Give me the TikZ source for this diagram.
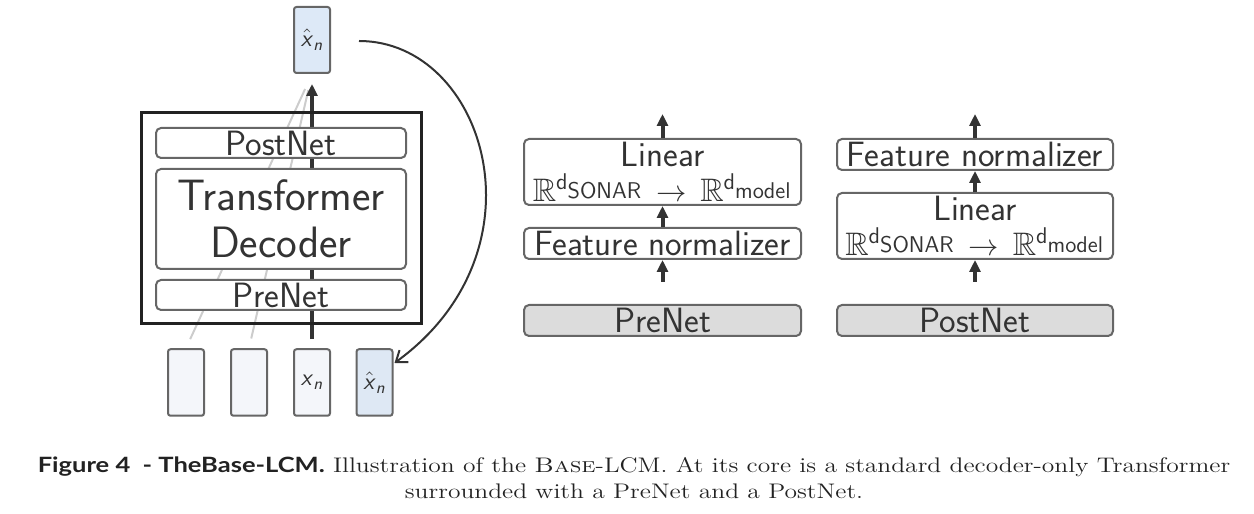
\documentclass[tikz,border=0pt]{standalone}
\usepackage{amsfonts}
\usepackage{amssymb}
\usepackage{amsmath}
\usepackage{fontspec}
\usepackage{tikz}
\usetikzlibrary{calc}
\usetikzlibrary{arrows.meta}
\newfontfamily\capfont{Lato}

\definecolor{r102g102b102}{rgb}{0.400000,0.400000,0.400000}
\definecolor{r51g51b51}{rgb}{0.200000,0.200000,0.200000}
\definecolor{r34g34b34}{rgb}{0.133333,0.133333,0.133333}
\definecolor{r221g233b247}{rgb}{0.866667,0.913725,0.968627}
\definecolor{r222g232b244}{rgb}{0.870588,0.909804,0.956863}
\definecolor{r244g246b250}{rgb}{0.956863,0.964706,0.980392}
\definecolor{r220g220b220}{rgb}{0.862745,0.862745,0.862745}
\definecolor{r204g204b204}{rgb}{0.800000,0.800000,0.800000}

\newcommand{\xtok}{$\textsf{\textit{x}}_{\textsf{\textit{n}}}$}
\newcommand{\xhattok}{$\hat{\textsf{\textit{x}}}_{\textsf{\textit{n}}}$}
\newcommand{\linmap}{$\mathbb{R}^{\mathsf{d}_{\scriptstyle\mathsf{SONAR}}}\,\rightarrow\,\mathbb{R}^{\mathsf{d}_{\scriptstyle\mathsf{model}}}$}

\tikzset{
  blockbox/.style={draw=r102g102b102, line width=0.04cm, rounded corners=0.1cm, fill=white, inner sep=0pt, text=r51g51b51, align=center, font=\sffamily\fontsize{20}{20}\selectfont},
  tokenbox/.style={draw=r102g102b102, line width=0.04cm, rounded corners=0.05cm, minimum width=0.72cm, minimum height=1.33cm, inner sep=0pt, text=r51g51b51, font=\sffamily\fontsize{13.5}{13.5}\selectfont},
  flowarrow/.style={draw=r51g51b51, line width=0.08cm, -{Triangle[width=0.22cm,length=0.24cm]}},
}

\begin{document}
\begin{tikzpicture}
\useasboundingbox (0.000000,0.000000) rectangle (25.080000,10.280000);%

% Drawing input and output vectors
\node [tokenbox, fill=r221g233b247, minimum height=1.32cm] (xtop) at (6.240000,9.480000) {\xhattok};%
\node [tokenbox, fill=r244g246b250] (tok1) at (3.720000,2.630000) {};%
\node [tokenbox, fill=r244g246b250] (tok2) at (4.980000,2.630000) {};%
\node [tokenbox, fill=r244g246b250] (xn) at (6.240000,2.630000) {\xtok};%
\node [tokenbox, fill=r222g232b244] (xhatin) at (7.490000,2.630000) {\xhattok};%

% Drawing attention lines and main flow
\draw [r204g204b204, line width=0.04cm, shorten <=0.2cm, shorten >=0.33cm] (tok1.north) -- (xtop.south);%
\draw [r204g204b204, line width=0.04cm, shorten <=0.2cm, shorten >=0.33cm] (tok2.north) -- (xtop.south);%
\draw [flowarrow, shorten <=0.18cm, shorten >=0.2cm] (xn.north) -- (xtop.south);%

% Drawing decoder stack
\node [draw=r34g34b34, line width=0.06cm, minimum width=5.600000cm, minimum height=4.220000cm, inner sep=0pt] (frame) at (5.620000,5.910000) {};%
\node [blockbox, minimum width=5.000000cm, minimum height=0.600000cm] (postnet) at (5.620000,7.420000) {PostNet};%
\node [blockbox, minimum width=5.000000cm, minimum height=2.000000cm, font=\sffamily\fontsize{25}{27}\selectfont] (decoder) at (5.620000,5.900000) {Transformer\\Decoder};%
\node [blockbox, minimum width=5.000000cm, minimum height=0.600000cm] (prenet) at (5.620000,4.380000) {PreNet};%

% Drawing feedback arrow
\draw [r51g51b51, line width=0.04cm, -{Straight Barb[length=0.2cm,width=0.3cm]}] ($(xtop.east)+(0.56,-0.02)$) .. controls (9.700000,9.460000) and (11.000000,5.280000) .. ($(xhatin.east)+(0.02,0.39)$);%

% Drawing PreNet detail
\node [blockbox, minimum width=5.540000cm, minimum height=1.320000cm] (linA) at (13.250000,6.840000) {Linear\\{\fontsize{18.5}{20}\selectfont\linmap}};%
\node [blockbox, minimum width=5.540000cm, minimum height=0.620000cm] (featA) at (13.250000,5.410000) {Feature normalizer};%
\node [blockbox, minimum width=5.540000cm, minimum height=0.620000cm, fill=r220g220b220] (preA) at (13.250000,3.870000) {PreNet};%
\coordinate (preAtop) at ($(preA.north)+(0,0.44)$);%
\coordinate (linAout) at ($(linA.north)+(0,0.48)$);%
\draw [flowarrow] (preAtop) -- (featA.south);%
\draw [flowarrow] (featA.north) -- (linA.south);%
\draw [flowarrow] (linA.north) -- (linAout);%

% Drawing PostNet detail
\node [blockbox, minimum width=5.520000cm, minimum height=0.620000cm] (featB) at (19.500000,7.190000) {Feature normalizer};%
\node [blockbox, minimum width=5.520000cm, minimum height=1.320000cm] (linB) at (19.500000,5.760000) {Linear\\{\fontsize{18.5}{20}\selectfont\linmap}};%
\node [blockbox, minimum width=5.520000cm, minimum height=0.620000cm, fill=r220g220b220] (postB) at (19.500000,3.870000) {PostNet};%
\coordinate (postBtop) at ($(postB.north)+(0,0.44)$);%
\coordinate (featBout) at ($(featB.north)+(0,0.48)$);%
\draw [flowarrow] (postBtop) -- (linB.south);%
\draw [flowarrow] (linB.north) -- (featB.south);%
\draw [flowarrow] (featB.north) -- (featBout);%

% Drawing caption
\node [text=r34g34b34, inner sep=0pt] (caption) at (12.680000,0.680000) {\scalebox{1.21}[1]{\fontsize{12}{14.8}\selectfont\begin{tabular}{@{}c@{}}{\capfont\bfseries Figure 4\ \ - TheBase-LCM.} Illustration of the \textsc{Base}-LCM. At its core is a standard decoder-only Transformer\\surrounded with a PreNet and a PostNet.\end{tabular}}};%
\end{tikzpicture}
\end{document}
